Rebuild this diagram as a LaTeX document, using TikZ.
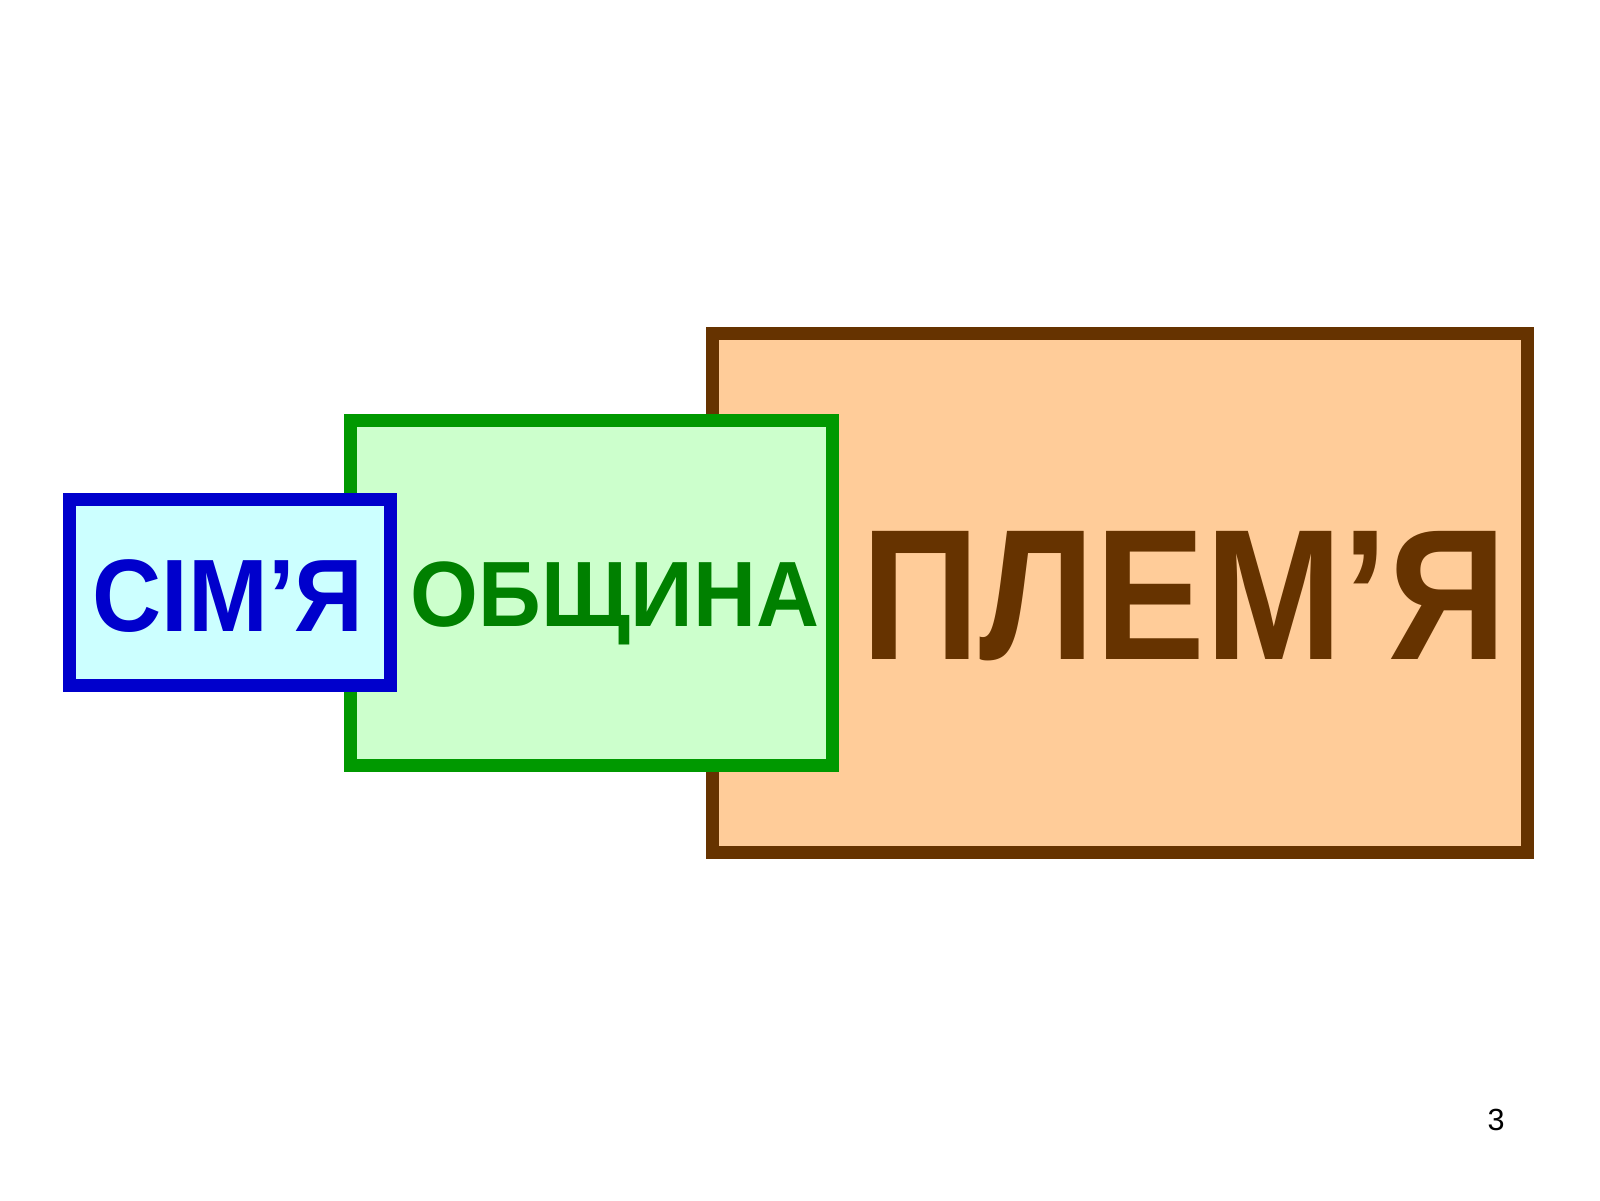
\documentclass[tikz,border=0pt]{standalone}
\usepackage{fontspec}
\setmainfont{Liberation Sans}
\usetikzlibrary{positioning}
\definecolor{simblue}{HTML}{0000CC}
\definecolor{simfill}{HTML}{CCFFFF}
\definecolor{obgreen}{HTML}{009900}
\definecolor{obtext}{HTML}{008000}
\definecolor{obfill}{HTML}{CCFFCC}
\definecolor{plbrown}{HTML}{663300}
\definecolor{plfill}{HTML}{FFCC99}
\tikzstyle{frame} = [rectangle, inner sep=0pt, line width=1.3mm]
\tikzstyle{simbox} = [frame, minimum width=3.21cm, minimum height=1.86cm, draw=simblue, fill=simfill]
\tikzstyle{obbox} = [frame, minimum width=4.82cm, minimum height=3.45cm, draw=obgreen, fill=obfill]
\tikzstyle{plbox} = [frame, minimum width=8.15cm, minimum height=5.19cm, draw=plbrown, fill=plfill]
\tikzstyle{word} = [anchor=base, inner sep=0pt, font=\bfseries]

\begin{document}
\begin{tikzpicture}
\useasboundingbox (0,0) rectangle (16,12);

\node (plemya) [plbox] at (11.195,6.075) {};
\node (obshch) [obbox] at (5.91,6.075) {};
\node (simya) [simbox] at (2.295,6.08) {};

\node (simtxt) [word, text=simblue, xscale=0.93] at (2.28,5.69) {\fontsize{29.3pt}{30pt}\selectfont\bfseries СІМ’Я};
\node (obtxt) [word, text=obtext, xscale=0.94] at (6.15,5.74) {\fontsize{26.4pt}{27pt}\selectfont\bfseries ОБЩИНА};
\node (pltxt) [word, text=plbrown, xscale=0.885] at (11.84,5.41) {\fontsize{53pt}{54pt}\selectfont\bfseries ПЛЕМ’Я};

\node (page) [anchor=base, inner sep=0pt] at (14.96,0.70) {\fontsize{8.7pt}{9pt}\selectfont 3};

\end{tikzpicture}
\end{document}
